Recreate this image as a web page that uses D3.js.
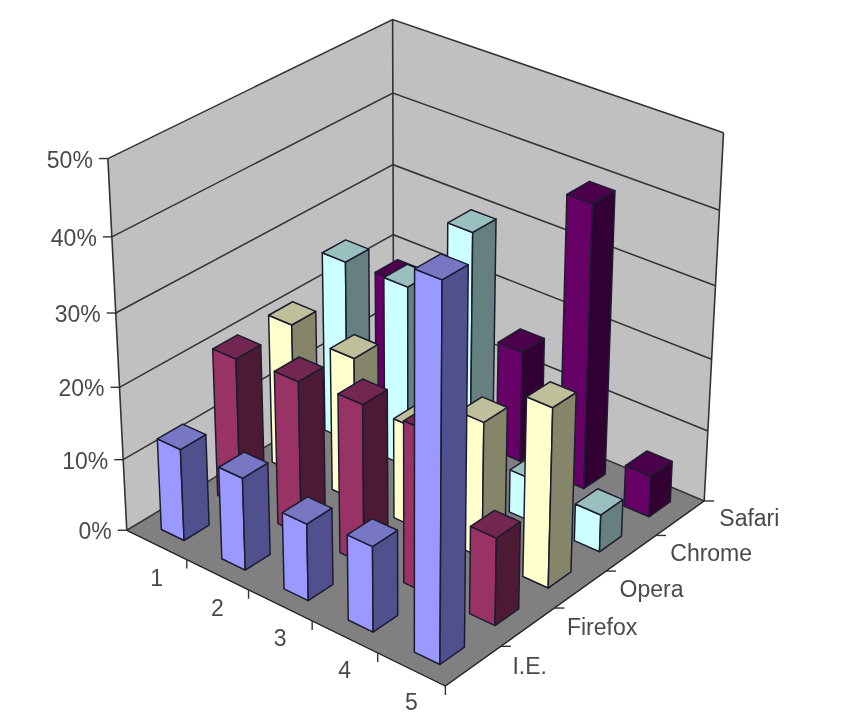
<!DOCTYPE html>
<html>
<head>
<meta charset="utf-8">
<script src="https://d3js.org/d3.v7.min.js"></script>
<style>
  html, body { margin: 0; padding: 0; background: #fff; }
  svg { display: block; filter: blur(0.6px); }
  text { font-family: "Liberation Sans", Arial, sans-serif; font-size: 23px; fill: #4a4a4a; }
</style>
</head>
<body>
<div id="vis"></div>
<script>
// values, one list per browser
var categories = ["1", "2", "3", "4", "5"];
var seriesNames = ["I.E.", "Firefox", "Opera", "Chrome", "Safari"];
var ieShare = [12.8, 12.8, 10.6, 11.7, 49.5];
var firefoxShare = [20.7, 21.3, 22, 22.2, 12];
var operaShare = [21, 20, 14, 18.8, 24.6];
var chromeShare = [25.5, 25.5, 36.3, 6, 5.2];
var safariShare = [18.6, 10, 15.7, 39.4, 5.8];
var valueTicks = [0, 10, 20, 30, 40, 50];

// face colours: front, side, top
var blues = ["#9999ff", "#50508f", "#7777c4"];
var crimsons = ["#993366", "#4c1a33", "#732650"];
var creams = ["#ffffcc", "#85856a", "#bfbf99"];
var cyans = ["#ccffff", "#668080", "#99bfbf"];
var purples = ["#660066", "#330033", "#4c004c"];

var seriesValues = [ieShare, firefoxShare, operaShare, chromeShare, safariShare];
var seriesColors = [blues, crimsons, creams, cyans, purples];

var width = 860;
var height = 728;

// where the corners of the chart box land on the page.
// [x, value, depth] -> [px, py], used to fit the camera below
var boxCorners = [
  [[0, 0, 0], [127, 528]],
  [[1, 0, 0], [445, 688]],
  [[1, 0, 1], [705, 498]],
  [[0, 0, 1], [393, 373]],
  [[0, 1, 0], [108, 159]],
  [[0, 1, 1], [393, 18]],
  [[1, 1, 1], [723, 134]]
];

// scales run from 0 to 1 along each edge of the box
var xScale = d3.scaleBand().domain(categories).range([0, 1])
  .paddingInner(0.62).paddingOuter(0.31);
var zScale = d3.scaleBand().domain(seriesNames).range([0, 1])
  .paddingInner(0.56).paddingOuter(0.28);
var yScale = d3.scaleLinear().domain([0, 50]).range([0, 1]);

/**
 * solve - gaussian elimination with pivoting
 */
function solve(a, b) {
  var n = b.length;
  for (var i = 0; i < n; i++) {
    var best = i;
    for (var r = i + 1; r < n; r++) {
      if (Math.abs(a[r][i]) > Math.abs(a[best][i])) best = r;
    }
    var ta = a[i]; a[i] = a[best]; a[best] = ta;
    var tb = b[i]; b[i] = b[best]; b[best] = tb;
    for (r = i + 1; r < n; r++) {
      var f = a[r][i] / a[i][i];
      for (var c = i; c < n; c++) a[r][c] -= f * a[i][c];
      b[r] -= f * b[i];
    }
  }
  var out = [];
  for (i = n - 1; i >= 0; i--) {
    var s = b[i];
    for (c = i + 1; c < n; c++) s -= a[i][c] * out[c];
    out[i] = s / a[i][i];
  }
  return out;
}

/**
 * fitCamera - least squares projective matrix from boxCorners
 */
function fitCamera(corners) {
  var rows = [], rhs = [];
  corners.forEach(function(d) {
    var X = d[0][0], Y = d[0][1], Z = d[0][2];
    var u = d[1][0] / 100, v = d[1][1] / 100;
    rows.push([X, Y, Z, 1, 0, 0, 0, 0, -u * X, -u * Y, -u * Z]);
    rhs.push(u);
    rows.push([0, 0, 0, 0, X, Y, Z, 1, -v * X, -v * Y, -v * Z]);
    rhs.push(v);
  });
  var ata = d3.range(11).map(function(i) {
    return d3.range(11).map(function(j) {
      return d3.sum(rows, function(r) { return r[i] * r[j]; });
    });
  });
  var atb = d3.range(11).map(function(i) {
    return d3.sum(rows, function(r, k) { return r[i] * rhs[k]; });
  });
  return solve(ata, atb);
}

var cam = fitCamera(boxCorners);

// x, y (height) and z (depth) all 0..1
function project(x, y, z) {
  var w = cam[8] * x + cam[9] * y + cam[10] * z + 1;
  return [
    100 * (cam[0] * x + cam[1] * y + cam[2] * z + cam[3]) / w,
    100 * (cam[4] * x + cam[5] * y + cam[6] * z + cam[7]) / w
  ];
}

function poly(points) {
  return "M" + points.map(function(p) { return project(p[0], p[1], p[2]).join(","); }).join("L") + "Z";
}

function line(points) {
  return "M" + points.map(function(p) { return project(p[0], p[1], p[2]).join(","); }).join("L");
}

var svg = d3.select("#vis").append("svg")
  .attr("width", width)
  .attr("height", height);

// walls and floor
var g = svg.append("g");

g.append("path")
  .attr("d", poly([[0, 0, 0], [0, 1, 0], [0, 1, 1], [0, 0, 1]]))
  .attr("fill", "#c0c0c0");
g.append("path")
  .attr("d", poly([[0, 0, 1], [0, 1, 1], [1, 1, 1], [1, 0, 1]]))
  .attr("fill", "#c0c0c0");
g.append("path")
  .attr("d", poly([[0, 0, 0], [1, 0, 0], [1, 0, 1], [0, 0, 1]]))
  .attr("fill", "#808080");

// gridlines go along both walls
g.selectAll(".grid")
  .data(valueTicks)
  .enter().append("path")
  .attr("class", "grid")
  .attr("d", function(d) {
    var v = yScale(d);
    return line([[0, v, 0], [0, v, 1], [1, v, 1]]);
  })
  .attr("fill", "none")
  .attr("stroke", "#333")
  .attr("stroke-width", 1.5);

// box edges
g.append("path")
  .attr("d", line([[0, 0, 0], [0, 1, 0]]) + line([[0, 0, 1], [0, 1, 1]]) + line([[1, 0, 1], [1, 1, 1]]))
  .attr("fill", "none")
  .attr("stroke", "#333")
  .attr("stroke-width", 1.6);
g.append("path")
  .attr("d", line([[0, 0, 0], [1, 0, 0], [1, 0, 1]]))
  .attr("fill", "none")
  .attr("stroke", "#222")
  .attr("stroke-width", 1.4);

// value axis
g.selectAll(".value-tick")
  .data(valueTicks)
  .enter().append("path")
  .attr("class", "value-tick")
  .attr("d", function(d) {
    var p = project(0, yScale(d), 0);
    return "M" + p + "h-9";
  })
  .attr("stroke", "#333")
  .attr("stroke-width", 1.4);

g.selectAll(".value-label")
  .data(valueTicks)
  .enter().append("text")
  .attr("class", "value-label")
  .attr("x", function(d) { return project(0, yScale(d), 0)[0] - 15; })
  .attr("y", function(d) { return project(0, yScale(d), 0)[1] + 1; })
  .attr("dy", "0.35em")
  .attr("text-anchor", "end")
  .text(function(d) { return d + "%"; });

// category axis, ticks sit between the bands
var xTicks = d3.range(categories.length).map(function(i) {
  return (i + 1) / categories.length;
});
g.selectAll(".x-tick")
  .data(xTicks)
  .enter().append("path")
  .attr("class", "x-tick")
  .attr("d", function(d) { return "M" + project(d, 0, 0) + "v9"; })
  .attr("stroke", "#333")
  .attr("stroke-width", 1.4);

g.selectAll(".x-label")
  .data(categories)
  .enter().append("text")
  .attr("class", "x-label")
  .attr("x", function(d) { return project(xScale(d) + xScale.bandwidth() / 2, 0, 0)[0]; })
  .attr("y", function(d) { return project(xScale(d) + xScale.bandwidth() / 2, 0, 0)[1] + 33; })
  .attr("dy", "0.35em")
  .attr("text-anchor", "middle")
  .text(function(d) { return d; });

// series axis
var zTicks = d3.range(seriesNames.length).map(function(i) {
  return (i + 1) / seriesNames.length;
});
g.selectAll(".z-tick")
  .data(zTicks)
  .enter().append("path")
  .attr("class", "z-tick")
  .attr("d", function(d) { return "M" + project(1, 0, d) + "h10"; })
  .attr("stroke", "#333")
  .attr("stroke-width", 1.4);

g.selectAll(".z-label")
  .data(seriesNames)
  .enter().append("text")
  .attr("class", "z-label")
  .attr("x", function(d) { return project(1, 0, zScale(d) + zScale.bandwidth() / 2)[0] + 39; })
  .attr("y", function(d) { return project(1, 0, zScale(d) + zScale.bandwidth() / 2)[1]; })
  .attr("dy", "0.35em")
  .text(function(d) { return d; });

// bars, painted from the back row forward and left to right
var bars = [];
seriesNames.forEach(function(name, s) {
  categories.forEach(function(cat, c) {
    bars.push({ cat: cat, name: name, s: s, c: c, value: seriesValues[s][c], colors: seriesColors[s] });
  });
});
bars.sort(function(a, b) { return (b.s - a.s) || (a.c - b.c); });

var bar = g.selectAll(".bar")
  .data(bars)
  .enter().append("g")
  .attr("class", "bar");

function faces(d) {
  var x0 = xScale(d.cat), x1 = x0 + xScale.bandwidth();
  var z0 = zScale(d.name), z1 = z0 + zScale.bandwidth();
  var v = yScale(d.value);
  return [
    { fill: d.colors[0], d: poly([[x0, 0, z0], [x1, 0, z0], [x1, v, z0], [x0, v, z0]]) },
    { fill: d.colors[1], d: poly([[x1, 0, z0], [x1, 0, z1], [x1, v, z1], [x1, v, z0]]) },
    { fill: d.colors[2], d: poly([[x0, v, z0], [x1, v, z0], [x1, v, z1], [x0, v, z1]]) }
  ];
}

bar.selectAll("path")
  .data(faces)
  .enter().append("path")
  .attr("d", function(d) { return d.d; })
  .attr("fill", function(d) { return d.fill; })
  .attr("stroke", "#1c1c30")
  .attr("stroke-width", 1.5)
  .attr("stroke-linejoin", "round");
</script>
</body>
</html>
